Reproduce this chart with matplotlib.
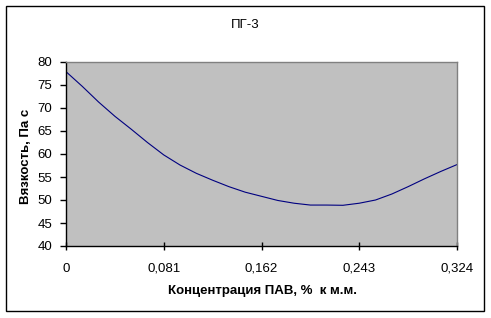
import matplotlib
matplotlib.use("Agg")
import matplotlib.pyplot as plt
from matplotlib.patches import Rectangle

plt.rcParams['font.family'] = ['Liberation Sans', 'DejaVu Sans']

# Data
concentration = [0, 0.0135, 0.027, 0.0405, 0.054, 0.0675, 0.081, 0.0945, 0.108, 0.1215,
                 0.135, 0.1485, 0.162, 0.1755, 0.189, 0.2025, 0.216, 0.2295, 0.243,
                 0.2565, 0.270, 0.2835, 0.297, 0.3105, 0.324]
viscosity = [77.9, 74.7, 71.3, 68.2, 65.4, 62.5, 59.8, 57.6, 55.8, 54.3,
             52.9, 51.7, 50.8, 49.9, 49.3, 48.9, 48.9, 48.85, 49.3,
             50.0, 51.3, 52.9, 54.6, 56.2, 57.7]
x_ticks = [0, 0.081, 0.162, 0.243, 0.324]
x_tick_labels = ["0", "0,081", "0,162", "0,243", "0,324"]
y_ticks = [40, 45, 50, 55, 60, 65, 70, 75, 80]
title = "ПГ-3"
x_label = "Концентрация ПАВ, %  к м.м."
y_label = "Вязкость, Па с"

W, H = 491, 318
fig = plt.figure(figsize=(W / 100, H / 100), dpi=100)

# outer chart border
fig.patches.append(Rectangle((6 / W, 1 - 311 / H), (484 - 6) / W, (311 - 6) / H,
                             transform=fig.transFigure, fill=False,
                             edgecolor='black', linewidth=1.0))

ax = fig.add_axes([66 / W, 1 - 246 / H, (457 - 66) / W, (246 - 62) / H])
ax.set_facecolor('#C0C0C0')
ax.plot(concentration, viscosity, color='#000080', linewidth=0.8)

ax.set_xlim(0, 0.324)
ax.set_ylim(40, 80)
ax.set_xticks(x_ticks)
ax.set_xticklabels(x_tick_labels)
ax.set_yticks(y_ticks)

for s in ['top', 'right']:
    ax.spines[s].set_color('#808080')
    ax.spines[s].set_linewidth(1.0)
for s in ['left', 'bottom']:
    ax.spines[s].set_color('black')
    ax.spines[s].set_linewidth(1.0)

ax.tick_params(axis='x', direction='inout', length=6, width=1, pad=9, labelsize=9.5, colors='black')
ax.tick_params(axis='y', direction='out', length=4, width=1, pad=6, labelsize=9.5, colors='black')

fig.text(245 / W, 1 - 25 / H, title, ha='center', va='center', fontsize=9.5)
fig.text(262 / W, 1 - 291 / H, x_label, ha='center', va='center', fontsize=9.5, fontweight='bold')
fig.text(26 / W, 1 - 156 / H, y_label, ha='center', va='center', rotation=90, fontsize=9.5, fontweight='bold')

fig.savefig('out.png', dpi=100)
